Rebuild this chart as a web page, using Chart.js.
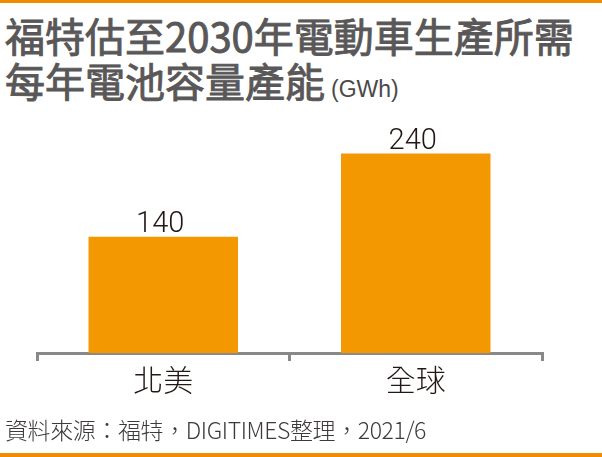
<!DOCTYPE html>
<html>
<head>
<meta charset="utf-8">
<script src="https://cdn.jsdelivr.net/npm/chart.js@4.4.1/dist/chart.umd.min.js"></script>
<style>
  html, body { margin: 0; padding: 0; background: #fff; }
  #wrap { position: relative; width: 602px; height: 457px; overflow: hidden; }
  #chartCanvas { position: absolute; left: 0; top: 0; }
  .bar-top { position: absolute; left: 0; top: 0; width: 602px; height: 3px; background: #f08c00; }
  .bar-bottom { position: absolute; left: 0; top: 453px; width: 602px; height: 4px; background: #f08c00; }
  .title { position: absolute; left: 5px; font-family: "Noto Sans CJK TC", sans-serif; font-weight: 400;
           -webkit-text-stroke: 0.9px #595757;
           font-size: 40px; line-height: 40px; color: #595757; white-space: nowrap; }
  .title small { font-family: "Liberation Sans", Arial, sans-serif; font-weight: 400; font-size: 23px; margin-left: 6px;
                 color: #4a4848; -webkit-text-stroke: 0; }
  .source { position: absolute; left: 5px; top: 414px; font-family: "Noto Sans CJK TC", sans-serif; font-weight: 300;
            font-size: 23px; line-height: 30px; color: #3e3a39; white-space: nowrap; letter-spacing: -0.4px; }
</style>
</head>
<body>
<div id="wrap">
  <div class="bar-top"></div>
  <div class="title" style="top:15px">福特估至2030年電動車生產所需</div>
  <div class="title" style="top:60px">每年電池容量產能<small>(GWh)</small></div>
  <canvas id="chartCanvas" width="602" height="457"></canvas>
  <div class="source">資料來源：福特，DIGITIMES整理，2021/6</div>
  <div class="bar-bottom"></div>
</div>
<script>
// Dữ liệu biểu đồ
const categories = ['北美', '全球'];
const capacityValues = [140, 240];

// Vẽ số liệu phía trên mỗi cột
const valueLabels = {
    id: 'valueLabels',
    afterDatasetsDraw(chart) {
        const ctx = chart.ctx;
        const meta = chart.getDatasetMeta(0);
        ctx.save();
        ctx.font = '300 29px Roboto, "Liberation Sans", sans-serif';
        ctx.fillStyle = '#231815';
        ctx.textAlign = 'center';
        ctx.textBaseline = 'alphabetic';
        meta.data.forEach((bar, i) => {
            ctx.fillText(String(capacityValues[i]), bar.x - 3, bar.y - 5);
        });
        ctx.restore();
    }
};

const ctx = document.getElementById('chartCanvas').getContext('2d');
new Chart(ctx, {
    type: 'bar',
    data: {
        labels: categories,
        datasets: [{
            data: capacityValues,
            backgroundColor: '#f39800',
            borderWidth: 0,
            categoryPercentage: 1,
            barPercentage: 0.592
        }]
    },
    options: {
        responsive: false,
        animation: false,
        layout: {
            padding: { left: 37, right: 60, top: 137, bottom: 0 }
        },
        plugins: {
            legend: { display: false },
            tooltip: { enabled: false }
        },
        scales: {
            x: {
                afterFit: (scale) => { scale.height = 104; },
                grid: {
                    drawOnChartArea: false,
                    drawTicks: true,
                    tickLength: 8,
                    color: '#898989',
                    lineWidth: 3
                },
                border: { display: true, color: '#898989', width: 3 },
                ticks: {
                    color: '#231815',
                    padding: 1,
                    font: { family: '"Noto Sans CJK TC", sans-serif', size: 30, weight: '300' }
                }
            },
            y: {
                display: false,
                min: 0,
                max: 260
            }
        }
    },
    plugins: [valueLabels]
});
</script>
</body>
</html>
